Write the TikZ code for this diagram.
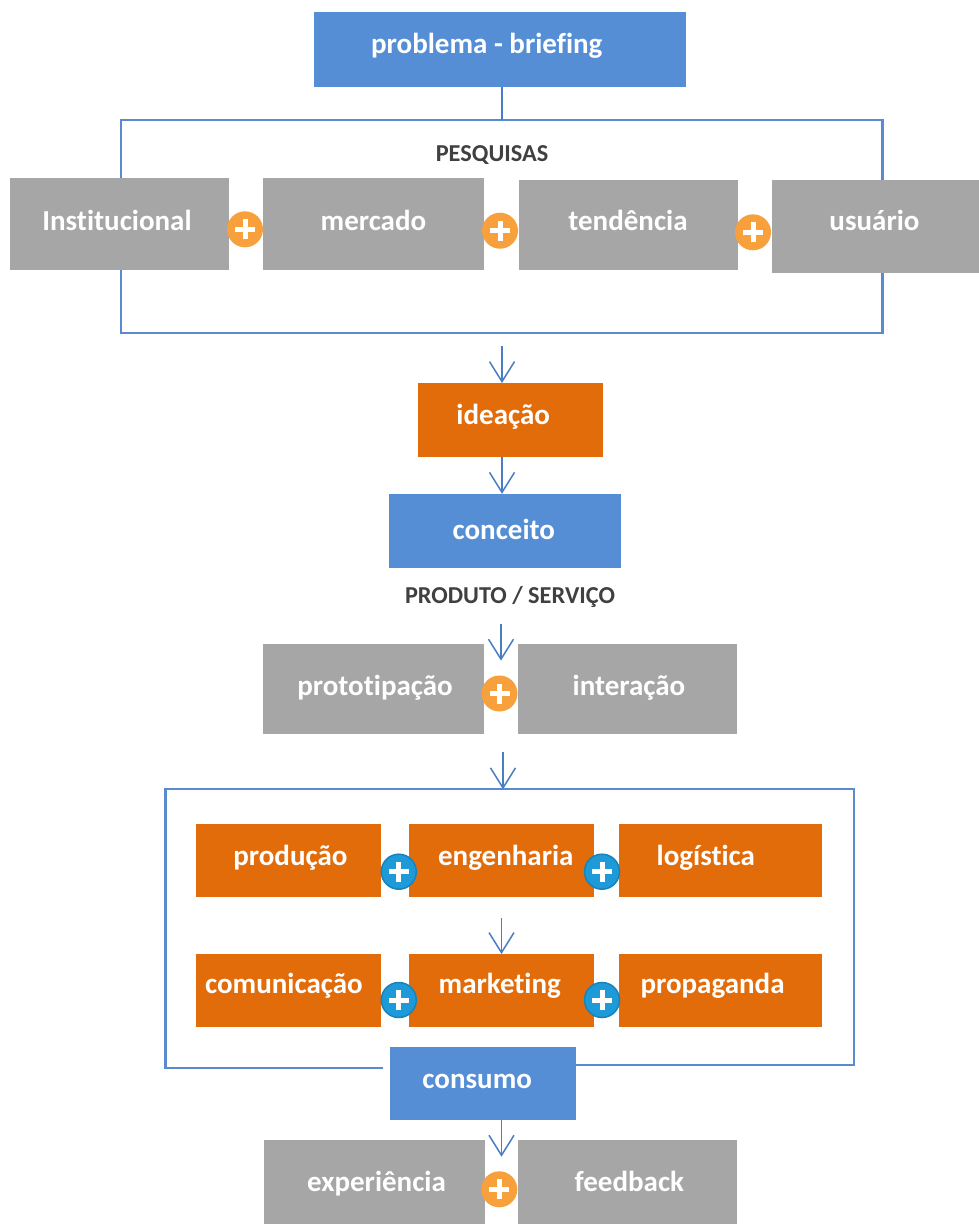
\documentclass[tikz,border=0pt]{standalone}
\usepackage{fontspec}
\setmainfont{Carlito}[Ligatures=NoCommon]
\usetikzlibrary{arrows.meta}
\definecolor{cblue}{HTML}{558ED5}
\definecolor{corange}{HTML}{E36C0A}
\definecolor{cgray}{HTML}{A6A6A6}
\definecolor{cplusO}{HTML}{F7A03C}
\definecolor{cplusB}{HTML}{1E9AD8}
\definecolor{cplusBring}{HTML}{1882BC}
\definecolor{cframe}{HTML}{5A8AD0}
\definecolor{carrow}{HTML}{4A7EC4}
\definecolor{ctxt}{HTML}{404040}
\tikzset{
  boxbase/.style={rectangle, inner sep=0pt, outer sep=0pt},
  bluebox/.style={boxbase, fill=cblue},
  orbox/.style={boxbase, fill=corange},
  graybox/.style={boxbase, fill=cgray},
  lbl/.style={text=white, font=\bfseries\fontsize{29}{32}\selectfont, inner sep=0pt, text height=19pt, text depth=6pt},
  sectlbl/.style={text=ctxt, font=\bfseries\fontsize{24.3}{28}\selectfont, inner sep=0pt, anchor=base},
  frameline/.style={draw=cframe, line width=2.2pt},
  conn/.style={draw=carrow, line width=1.5pt},
  arr/.style={conn, -{Straight Barb[length=20pt,width=25pt,line width=1.5pt]}},
  plusmark/.style={path picture={
      \draw[white, line width=5pt] ([xshift=-10pt]path picture bounding box.center) -- ([xshift=10pt]path picture bounding box.center);
      \draw[white, line width=5pt] ([yshift=-10pt]path picture bounding box.center) -- ([yshift=10pt]path picture bounding box.center);}},
  plusO/.style={circle, inner sep=0pt, minimum size=36pt, fill=cplusO, plusmark},
  plusB/.style={circle, inner sep=0pt, minimum size=35pt, fill=cplusB, draw=cplusBring, line width=1.5pt, plusmark},
}
\begin{document}
\begin{tikzpicture}[x=1pt, y=-1pt]
\useasboundingbox[fill=white] (0,0) rectangle (979,1224);

% ---- frames (drawn first, behind boxes)
\draw[frameline] (120.6,120) rectangle (882.5,332.7);
\coordinate (lf1) at (383,1068.3);
\coordinate (lf2) at (568.5,1065);
\draw[frameline] (lf1) -- (165.4,1068.3) -- (165.4,789.3) -- (854,789.3) -- (854,1065) -- (lf2);

% ---- top
\node[bluebox, minimum width=372, minimum height=75.6,
  label={[lbl, xshift=-13.5pt, yshift=3pt]center:problema - briefing}] (brief) at (500.3,49.5) {};
\coordinate (frtop) at (502,120);
\draw[conn] (brief.south -| frtop) -- (frtop);
\node[sectlbl] (pesq) at (492,161) {PESQUISAS};

\node[graybox, minimum width=219, minimum height=92,
  label={[lbl, xshift=-2.5pt, yshift=0pt]center:Institucional}] (inst) at (119.5,224) {};
\node[graybox, minimum width=221, minimum height=92,
  label={[lbl, xshift=0pt, yshift=0pt]center:mercado}] (merc) at (373.5,224) {};
\node[graybox, minimum width=219, minimum height=90,
  label={[lbl, xshift=0pt, yshift=1.5pt]center:tendência}] (tend) at (628,225) {};
\node[graybox, minimum width=208, minimum height=93,
  label={[lbl, xshift=-1pt, yshift=3pt]center:usuário}] (usu) at (875.5,226.5) {};
\node[plusO] (p1) at (245,229.3) {};
\node[plusO] (p2) at (500,230.7) {};
\node[plusO] (p3) at (753,232.3) {};

% ---- middle
\coordinate (a1) at (502,346);
\node[orbox, minimum width=185, minimum height=73.8,
  label={[lbl, xshift=-7pt, yshift=1.5pt]center:ideação}] (idea) at (510.2,419.9) {};
\draw[arr] (a1) -- (a1 |- idea.north);
\node[bluebox, minimum width=232.5, minimum height=73.8,
  label={[lbl, xshift=-1pt, yshift=-2.5pt]center:conceito}] (conc) at (504.8,530.7) {};
\draw[arr] (idea.south -| a1) -- (conc.north -| a1);
\node[sectlbl] (prod) at (510,603.5) {PRODUTO / SERVIÇO};

\node[graybox, minimum width=221, minimum height=90.6,
  label={[lbl, xshift=1.5pt, yshift=-0.3pt]center:prototipação}] (proto) at (373.5,689.1) {};
\node[graybox, minimum width=219, minimum height=90.6,
  label={[lbl, xshift=1.5pt, yshift=-0.3pt]center:interação}] (inter) at (627.5,689.1) {};
\coordinate (a3s) at (501,624);
\coordinate (a3e) at (501,660.6);
\draw[arr] (a3s) -- (a3e);
\node[plusO] (p4) at (499.5,693.5) {};

\coordinate (a4s) at (503,752);
\coordinate (a4e) at (503,789.3);
\draw[arr] (a4s) -- (a4e);

% ---- production block
\node[orbox, minimum width=185.3, minimum height=73,
  label={[lbl, xshift=2pt, yshift=2.3pt]center:produção}] (prodc) at (288.4,860.8) {};
\node[orbox, minimum width=185.3, minimum height=73,
  label={[lbl, xshift=4.4pt, yshift=2.3pt]center:engenharia}] (eng) at (501.4,860.8) {};
\node[orbox, minimum width=203, minimum height=73,
  label={[lbl, xshift=-14.7pt, yshift=2.3pt]center:logística}] (log) at (720.5,860.8) {};
\node[plusB] (b1) at (398.8,871.7) {};
\node[plusB] (b2) at (602,871.7) {};

\node[orbox, minimum width=185.3, minimum height=73,
  label={[lbl, xshift=-4.5pt, yshift=3.7pt]center:comunicação}] (com) at (288.4,990.5) {};
\node[orbox, minimum width=185.3, minimum height=73,
  label={[lbl, xshift=-1.6pt, yshift=3.7pt]center:marketing}] (mkt) at (501.4,990.5) {};
\node[orbox, minimum width=203, minimum height=73,
  label={[lbl, xshift=-8pt, yshift=3.7pt]center:propaganda}] (prop) at (720.5,990.5) {};
\node[plusB] (b3) at (398.8,1000) {};
\node[plusB] (b4) at (602,1000) {};
\coordinate (a5s) at (501.5,918.3);
\draw[arr] (a5s) -- (a5s |- mkt.north);

% ---- consumption
\node[bluebox, minimum width=185.6, minimum height=73.3,
  label={[lbl, xshift=-6pt, yshift=1.5pt]center:consumo}] (cons) at (483.2,1083.3) {};
\coordinate (a6e) at (501.5,1156.7);
\draw[arr] (cons.south -| a6e) -- (a6e);

\node[graybox, minimum width=221, minimum height=84,
  label={[lbl, xshift=2.5pt, yshift=-3.2pt]center:experiência}] (exp) at (374,1182) {};
\node[graybox, minimum width=218.7, minimum height=84,
  label={[lbl, xshift=1.6pt, yshift=-3.2pt]center:feedback}] (feed) at (627.8,1182) {};
\node[plusO] (p5) at (499.3,1189.3) {};
\end{tikzpicture}
\end{document}
